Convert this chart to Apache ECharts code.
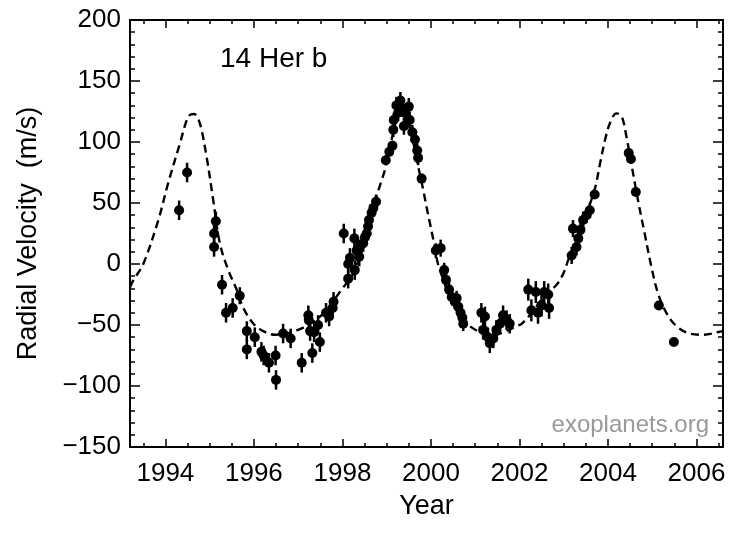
<!DOCTYPE html>
<html>
<head>
<meta charset="utf-8">
<title>14 Her b</title>
<script src="https://cdn.jsdelivr.net/npm/echarts@6/dist/echarts.min.js"></script>
<style>
    html, body { margin: 0; padding: 0; background: #fff; }
    #chart { width: 750px; height: 533px; }
</style>
</head>
<body>
<div id="chart"></div>
<script>
// observation epochs (year), radial velocities (m/s) and error bar half-heights
var obsYear = [
    1994.31, 1994.49, 1995.14, 1995.10, 1995.10, 1995.28, 1995.37, 1995.52, 1995.68, 1995.84,
    1995.84, 1996.02, 1996.17, 1996.22, 1996.34, 1996.49, 1996.50, 1996.66, 1996.83, 1997.08,
    1997.23, 1997.24, 1997.27, 1997.32, 1997.36, 1997.45, 1997.49, 1997.63, 1997.70, 1997.78,
    1997.80, 1998.03, 1998.13, 1998.13, 1998.17, 1998.27, 1998.28, 1998.32, 1998.38, 1998.43,
    1998.47, 1998.51, 1998.55, 1998.58, 1998.60, 1998.66, 1998.70, 1998.76, 1998.98, 1999.06,
    1999.13, 1999.15, 1999.16, 1999.22, 1999.26, 1999.31, 1999.34, 1999.39, 1999.41, 1999.50,
    1999.52, 1999.58, 1999.64, 1999.69, 1999.71, 1999.79, 2000.11, 2000.22, 2000.30, 2000.34,
    2000.41, 2000.47, 2000.54, 2000.58, 2000.62, 2000.67, 2000.71, 2000.73, 2001.14, 2001.18,
    2001.22, 2001.29, 2001.33, 2001.41, 2001.48, 2001.56, 2001.63, 2001.71, 2001.78, 2002.20,
    2002.27, 2002.37, 2002.42, 2002.50, 2002.56, 2002.65, 2002.67, 2003.18, 2003.21, 2003.29,
    2003.33, 2003.38, 2003.44, 2003.52, 2003.59, 2003.70, 2004.47, 2004.52, 2004.63, 2005.15,
    2005.49
];
var obsRV = [
    44, 75, 35, 25, 14, -17, -40, -36, -26, -55,
    -70, -60, -72, -75, -81, -75, -95, -57, -61, -81,
    -42, -46, -55, -73, -56, -50, -64, -40, -43, -36,
    -31, 25, 0, -12, 5, 21, -5, 11, 6, 16,
    17, 22, 25, 31, 36, 42, 46, 51, 85, 92,
    97, 110, 118, 130, 124, 134, 128, 113, 124, 129,
    118, 108, 102, 93, 87, 70, 11, 13, -5, -13,
    -21, -27, -31, -28, -35, -40, -44, -49, -40, -54,
    -43, -60, -65, -61, -54, -49, -42, -46, -49, -21,
    -38, -23, -40, -34, -23, -25, -36, 7, 29, 14,
    21, 28, 36, 40, 44, 57, 91, 86, 59, -34,
    -64
];
var obsErr = [
    8, 8, 8, 8, 8, 8, 8, 8, 7, 8,
    8, 8, 8, 8, 8, 8, 8, 8, 8, 8,
    8, 8, 8, 8, 8, 8, 8, 8, 8, 8,
    8, 8, 8, 8, 8, 8, 8, 8, 8, 7,
    7, 7, 7, 6, 6, 6, 6, 6, 4, 4,
    4, 6, 6, 7, 7, 7, 7, 7, 7, 7,
    7, 6, 6, 6, 6, 4, 6, 7, 6, 6,
    6, 6, 6, 6, 6, 6, 6, 6, 8, 8,
    8, 8, 8, 8, 8, 8, 8, 8, 8, 9,
    9, 9, 9, 9, 9, 9, 9, 7, 7, 7,
    7, 7, 7, 6, 6, 2, 3, 3, 2, 2,
    2
];

// orbit fit (dashed)
var fitYear = [
    1993.2, 1993.28, 1993.5, 1993.84, 1994.06, 1994.33, 1994.52, 1994.65, 1994.78, 1994.93,
    1995.07, 1995.23, 1995.42, 1995.61, 1995.76, 1995.99, 1996.21, 1996.48, 1996.74, 1997.0,
    1997.27, 1997.53, 1997.76, 1997.98, 1998.24, 1998.5, 1998.81, 1998.89, 1998.96, 1999.1,
    1999.22, 1999.35, 1999.48, 1999.6, 1999.7, 1999.83, 1999.9, 1999.98, 2000.07, 2000.16,
    2000.28, 2000.43, 2000.58, 2000.73, 2000.88, 2001.18, 2001.45, 2001.7, 2001.93, 2002.05,
    2002.3, 2002.55, 2002.84, 2002.99, 2003.1, 2003.3, 2003.5, 2003.7, 2003.82, 2003.93,
    2004.04, 2004.19, 2004.31, 2004.42, 2004.53, 2004.68, 2004.83, 2004.98, 2005.13, 2005.32,
    2005.55, 2005.85, 2006.15, 2006.53, 2006.6
];
var fitRV = [
    -19, -13, 0, 36, 66, 99, 121, 123, 115, 88,
    55, 17, -5, -21, -36, -49, -55, -58, -57, -54,
    -49, -42, -32, -21, -8, 20, 60, 69, 77, 100,
    118, 125, 118, 100, 82, 60, 47, 33, 17, 0,
    -13, -27, -38, -46, -51, -57, -58, -55, -51, -49,
    -39, -27, -17, -8, 3, 20, 40, 61, 82, 101,
    115, 123.5, 121, 104, 82, 52, 25, -2, -24, -40,
    -51, -57, -58, -55.5, -55
];

var yearTicks = [1994, 1996, 1998, 2000, 2002, 2004, 2006];
var halfYearTicks = [1993.5, 1994.5, 1995, 1995.5, 1996.5, 1997, 1997.5, 1998.5, 1999, 1999.5,
    2000.5, 2001, 2001.5, 2002.5, 2003, 2003.5, 2004.5, 2005, 2005.5, 2006.5];

var xMin = 1993.2, xMax = 2006.6;
var yMin = -150, yMax = 200;

var font = '"Liberation Sans", Arial, Helvetica, sans-serif';

var points = obsYear.map(function (t, i) { return [t, obsRV[i]]; });
var bars = obsYear.map(function (t, i) { return [t, obsRV[i], obsErr[i]]; });
var fit = fitYear.map(function (t, i) { return [t, fitRV[i]]; });

function xAx(pos, major) {
    return {
        type: 'value', position: pos, min: xMin, max: xMax,
        axisLine: { show: major, onZero: false, lineStyle: { color: '#000', width: 2 } },
        axisTick: {
            inside: true, length: major ? 8 : 4,
            customValues: major ? yearTicks : halfYearTicks,
            lineStyle: { color: '#000', width: 1.5 }
        },
        axisLabel: {
            show: major && pos === 'bottom', customValues: yearTicks, margin: 14,
            color: '#000', fontSize: 26, fontFamily: font,
            formatter: function (v) { return String(v); }
        },
        splitLine: { show: false },
        name: major && pos === 'bottom' ? 'Year' : '',
        nameLocation: 'middle', nameGap: 46,
        nameTextStyle: { color: '#000', fontSize: 27, fontFamily: font }
    };
}

function yAx(pos) {
    return {
        type: 'value', position: pos, min: yMin, max: yMax, interval: 50,
        axisLine: { show: true, onZero: false, lineStyle: { color: '#000', width: 2 } },
        axisTick: { inside: true, length: 10, lineStyle: { color: '#000', width: 1.5 } },
        minorTick: { show: true, splitNumber: 5, length: 5, lineStyle: { color: '#000', width: 1.5 } },
        axisLabel: {
            show: pos === 'left', margin: 9, color: '#000', fontSize: 26, fontFamily: font,
            formatter: function (v) { return String(v).replace('-', '\u2212'); }
        },
        splitLine: { show: false },
        name: pos === 'left' ? 'Radial Velocity  (m/s)' : '',
        nameLocation: 'middle', nameGap: 88,
        nameTextStyle: { color: '#000', fontSize: 27, fontFamily: font }
    };
}

var myChart = echarts.init(document.getElementById('chart'));

var option = {
    animation: false,
    backgroundColor: '#fff',
    title: [
        { text: '14 Her b', left: 215, top: 40,
          textStyle: { color: '#000', fontSize: 28, fontWeight: 'normal', fontFamily: font } },
        { text: 'exoplanets.org', right: 36, top: 408,
          textStyle: { color: '#999', fontSize: 24, fontWeight: 'normal', fontFamily: font } }
    ],
    grid: { left: 130, right: 27, top: 20, bottom: 86 },
    xAxis: [xAx('bottom', true), xAx('bottom', false), xAx('top', true), xAx('top', false)],
    yAxis: [yAx('left'), yAx('right')],
    series: [
        {
            name: 'fit', type: 'line', data: fit, smooth: 0.35,
            showSymbol: false, z: 1,
            lineStyle: { color: '#000', width: 2.4, type: [8, 5] }
        },
        {
            name: 'errors', type: 'custom', data: bars, z: 2,
            renderItem: function (params, api) {
                var lo = api.coord([api.value(0), api.value(1) - api.value(2)]);
                var hi = api.coord([api.value(0), api.value(1) + api.value(2)]);
                return {
                    type: 'line',
                    shape: { x1: lo[0], y1: lo[1], x2: hi[0], y2: hi[1] },
                    style: { stroke: '#000', lineWidth: 2.5 }
                };
            }
        },
        {
            name: 'RV', type: 'scatter', data: points, z: 3,
            symbol: 'circle', symbolSize: 10,
            itemStyle: { color: '#000', opacity: 1 }
        }
    ]
};

myChart.setOption(option);
</script>
</body>
</html>
